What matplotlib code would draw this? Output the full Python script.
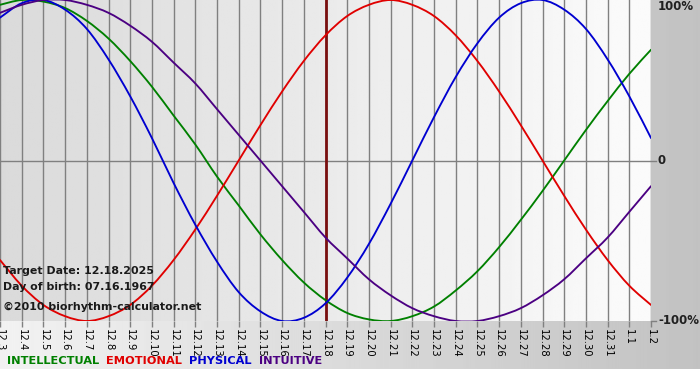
import numpy as np
import matplotlib
matplotlib.use("Agg")
import matplotlib.pyplot as plt
from matplotlib.path import Path
from matplotlib.patches import PathPatch

# days shown (month.day)
days = ["12.3", "12.4", "12.5", "12.6", "12.7", "12.8", "12.9", "12.10", "12.11",
        "12.12", "12.13", "12.14", "12.15", "12.16", "12.17", "12.18", "12.19",
        "12.20", "12.21", "12.22", "12.23", "12.24", "12.25", "12.26", "12.27",
        "12.28", "12.29", "12.30", "12.31", "1.1", "1.2"]
target = "12.18"

# biorhythm values per day (-1 .. 1)
intellectual = [0.97, 1.00, 0.99, 0.95, 0.87, 0.76, 0.62, 0.46, 0.28, 0.10, -0.10,
                -0.28, -0.46, -0.62, -0.76, -0.87, -0.95, -0.99, -1.00, -0.97, -0.91,
                -0.81, -0.69, -0.54, -0.37, -0.19, 0.00, 0.19, 0.37, 0.54, 0.69]
emotional = [-0.62, -0.78, -0.90, -0.97, -1.00, -0.97, -0.90, -0.78, -0.62, -0.43,
             -0.22, 0.00, 0.22, 0.43, 0.62, 0.78, 0.90, 0.97, 1.00, 0.97, 0.90, 0.78,
             0.62, 0.43, 0.22, 0.00, -0.22, -0.43, -0.62, -0.78, -0.90]
physical = [0.89, 0.98, 1.00, 0.94, 0.82, 0.63, 0.40, 0.14, -0.14, -0.40, -0.63,
            -0.82, -0.94, -1.00, -0.98, -0.89, -0.73, -0.52, -0.27, 0.00, 0.27, 0.52,
            0.73, 0.89, 0.98, 1.00, 0.94, 0.82, 0.63, 0.40, 0.14]
intuitive = [0.92, 0.97, 1.00, 1.00, 0.97, 0.92, 0.84, 0.74, 0.61, 0.48, 0.32, 0.16,
             0.00, -0.16, -0.32, -0.48, -0.61, -0.74, -0.84, -0.92, -0.97, -1.00,
             -1.00, -0.97, -0.92, -0.84, -0.74, -0.61, -0.48, -0.32, -0.16]

series = [("INTELLECTUAL", intellectual, "#008000"),
          ("EMOTIONAL", emotional, "#e00000"),
          ("PHYSICAL", physical, "#0000d0"),
          ("INTUITIVE", intuitive, "#4b0082")]


def smooth_path(xs, ys):
    # catmull-rom through the points, drawn as bezier segments
    pts = np.column_stack([xs, ys]).astype(float)
    verts = [pts[0]]
    codes = [Path.MOVETO]
    n = len(pts)
    for i in range(n - 1):
        p0 = pts[i - 1] if i > 0 else pts[i]
        p1, p2 = pts[i], pts[i + 1]
        p3 = pts[i + 2] if i + 2 < n else pts[i + 1]
        verts += [p1 + (p2 - p0) / 6, p2 - (p3 - p1) / 6, p2]
        codes += [Path.CURVE4] * 3
    return Path(verts, codes)


W, H = 700, 380
fig = plt.figure(figsize=(W / 100, H / 100), dpi=100)

# outer background: light gray -> darker gray, white strip at bottom
bg = fig.add_axes([0, 0, 1, 1], zorder=-10)
grad = np.linspace(242, 194, 256) / 255.0
img = np.tile(grad, (H, 1))
img[369:, :] = 1.0
bg.imshow(img, cmap="gray", vmin=0, vmax=1, aspect="auto", extent=[0, W, H, 0])
bg.set_xlim(0, W)
bg.set_ylim(H, 0)
bg.axis("off")

# plot area in pixels
px0, px1, py0, py1 = 0, 651, 0, 321
ax = fig.add_axes([px0 / W, 1 - py1 / H, (px1 - px0) / W, (py1 - py0) / H])
ax.set_facecolor("none")
x = np.arange(len(days))

pgrad = np.linspace(218, 251, 256) / 255.0
ax.imshow(np.tile(pgrad, (2, 1)), cmap="gray", vmin=0, vmax=1, aspect="auto",
          extent=[0, len(days) - 1, -1, 1], zorder=0)

for xi in x:
    ax.axvline(xi, color="#808080", lw=1.0, zorder=1)
ax.axhline(0, color="#808080", lw=1.0, zorder=1)

ti = days.index(target)
ax.axvline(ti, color="#7a1010", lw=2.0, zorder=2)

for name, vals, col in series:
    ax.add_patch(PathPatch(smooth_path(x, vals), facecolor="none", edgecolor=col,
                           lw=1.35, zorder=3, capstyle="round", joinstyle="round"))

for s in ax.spines.values():
    s.set_visible(False)
ax.set_xticks(x)
ax.set_xticklabels(days, rotation=270, fontsize=7.2, family="DejaVu Sans")
ax.tick_params(axis="x", length=4, width=1, color="#808080", pad=1.5)
ax.set_yticks([])
ax.set_xlim(0, len(days) - 1)
ax.set_ylim(-1.0, 1.0)

# right side percent labels and ticks
for lab, ypx in [("100%", 7), ("0", 161), ("-100%", 321)]:
    fig.text(658 / W, 1 - ypx / H, lab, fontsize=8.5, fontweight="bold",
             ha="left", va="center", color="#202020")
ax.plot([len(days) - 1, len(days) - 0.78], [0, 0], color="#808080", lw=1,
        clip_on=False)
ax.plot([len(days) - 1, len(days) - 0.78], [-1, -1], color="#808080", lw=1,
        clip_on=False)

# info text
info = [("Target Date: 12.18.2025", 271), ("Day of birth: 07.16.1967", 287),
        ("\u00a92010 biorhythm-calculator.net", 307)]
for t, ypx in info:
    fig.text(3 / W, 1 - ypx / H, t, fontsize=7.9, fontweight="bold",
             ha="left", va="center", color="#1a1a1a", zorder=5)

# legend words
lx = 7
for name, vals, col in series:
    t = fig.text(lx / W, 1 - 361 / H, name, fontsize=8.2, fontweight="bold",
                 ha="left", va="center", color=col)
    fig.canvas.draw()
    bb = t.get_window_extent()
    lx = bb.x1 + 7

fig.savefig("out.png", dpi=100)
